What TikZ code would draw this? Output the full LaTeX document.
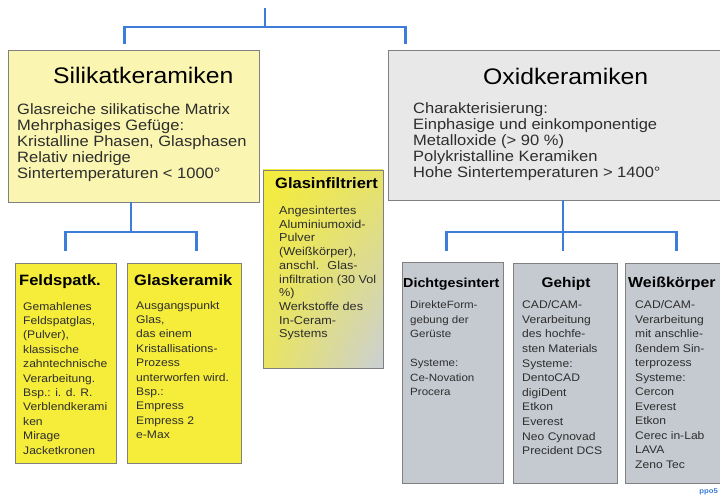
\documentclass[tikz,border=0pt]{standalone}
\usepackage{fontspec}
\setmainfont{Liberation Sans}[FakeStretch=1.1]
\usetikzlibrary{shadows,shadings}
\definecolor{lyel}{RGB}{250,245,176}
\definecolor{lgray}{RGB}{232,232,232}
\definecolor{byel}{RGB}{245,237,58}
\definecolor{bgray}{RGB}{197,202,209}
\definecolor{edge}{RGB}{128,128,128}
\definecolor{conblue}{RGB}{59,125,216}
\definecolor{txt}{RGB}{45,45,45}
\begin{document}
\begin{tikzpicture}[x=1pt,y=-1pt,
  panel/.style={draw=edge, line width=0.9pt, inner sep=0pt,
    drop shadow={shadow xshift=1.2pt, shadow yshift=-1.2pt, opacity=0.35}},
  conn/.style={draw=conblue, line width=2.4pt},
  bigtitle/.style={anchor=base west, inner sep=0pt, font=\fontsize{22.5}{26}\selectfont, text=black},
  bigbody/.style={anchor=north west, inner sep=0pt, align=left, font=\fontsize{15}{16}\selectfont, text=txt},
  smalltitle/.style={anchor=base west, inner sep=0pt, font=\bfseries\fontsize{15}{17}\selectfont, text=black},
  smallbody/.style={anchor=north west, inner sep=0pt, align=left, font=\fontsize{11}{14.4}\selectfont, text=txt}]
\useasboundingbox[fill=white] (0,0) rectangle (720,497);

% boxes
\node[panel, fill=lyel, minimum width=251pt, minimum height=152pt] (sil) at (133.5,126) {};
\node[panel, fill=lgray, minimum width=334pt, minimum height=150pt] (oxi) at (555,125) {};
\node[panel, minimum width=120pt, minimum height=198pt,
  upper left=byel, upper right=byel!70!bgray, lower left=byel!75!bgray, lower right=bgray!90!white] (gin) at (323,269) {};
\node[panel, fill=byel, minimum width=101pt, minimum height=200pt] (feld) at (65.5,363) {};
\node[panel, fill=byel, minimum width=114pt, minimum height=200pt] (glas) at (184,363) {};
\node[panel, fill=bgray, minimum width=101pt, minimum height=221pt] (dicht) at (452.5,372.5) {};
\node[panel, fill=bgray, minimum width=104pt, minimum height=220pt] (geh) at (565,373) {};
\node[panel, fill=bgray, minimum width=97pt, minimum height=220pt] (weiss) at (673.5,373) {};

% connectors
\coordinate (top) at (265,8);
\coordinate (barT) at (265,27);
\coordinate (barS) at (131,232);
\coordinate (barO) at (563,232);
\draw[conn] (top) -- (barT);
\draw[conn, shorten >=6pt] (barT) -| ([xshift=117pt]sil.north west);
\draw[conn, shorten >=6pt] (barT) -| ([xshift=18pt]oxi.north west);
\draw[conn] (barS |- sil.south) -- (barS);
\draw[conn, shorten >=12pt] (barS) -| (feld.north);
\draw[conn, shorten >=12pt] (barS) -| ([xshift=70pt]glas.north west);
\draw[conn] (barO |- oxi.south) -- (barO);
\draw[conn, shorten >=12pt] (barO) -- (barO |- geh.north);
\draw[conn, shorten >=11pt] (barO) -| ([xshift=45pt]dicht.north west);
\draw[conn, shorten >=12pt] (barO) -| ([xshift=52pt]weiss.north west);

% big box texts
\node[bigtitle] (silT) at (53,84) {Silikatkeramiken};
\node[bigbody] (silB) at (17,103.3) {Glasreiche silikatische Matrix\\Mehrphasiges Gefüge:\\Kristalline Phasen, Glasphasen\\Relativ niedrige\\Sintertemperaturen < 1000°};
\node[bigtitle] (oxiT) at (483,85) {Oxidkeramiken};
\node[bigbody] (oxiB) at (413,102.3) {Charakterisierung:\\Einphasige und einkomponentige\\Metalloxide (> 90 \%)\\Polykristalline Keramiken\\Hohe Sintertemperaturen > 1400°};

% Glasinfiltriert
\node[smalltitle] (ginT) at (275,189) {Glasinfiltriert};
\node[smallbody, font=\fontsize{11.5}{13.7}\selectfont] (ginB) at (279,206) {Angesintertes\\Aluminiumoxid-\\Pulver\\(Weißkörper),\\anschl.~ Glas-\\infiltration (30 Vol\\\%)\\Werkstoffe des\\In-Ceram-\\Systems};

% yellow small boxes
\node[smalltitle] (feldT) at (19,285) {Feldspatk.};
\node[smallbody] (feldB) at (23,302) {Gemahlenes\\Feldspatglas,\\(Pulver),\\klassische\\zahntechnische\\Verarbeitung.\\Bsp.: i. d. R.\\Verblendkerami\\ken\\Mirage\\Jacketkronen};
\node[smalltitle] (glasT) at (134,285) {Glaskeramik};
\node[smallbody] (glasB) at (136,301) {Ausgangspunkt\\Glas,\\das einem\\Kristallisations-\\Prozess\\unterworfen wird.\\Bsp.:\\Empress\\Empress 2\\e-Max};

% gray small boxes
\node[smalltitle, font=\bfseries\fontsize{13}{15}\selectfont] (dichtT) at (403,287) {Dichtgesintert};
\node[smallbody, font=\fontsize{10.5}{14.5}\selectfont] (dichtB) at (410,300.8) {DirekteForm-\\gebung der\\Gerüste\\[14.5pt]Systeme:\\Ce-Novation\\Procera};
\node[smalltitle, anchor=base, font=\bfseries\fontsize{14}{16}\selectfont] (gehT) at (566,287) {Gehipt};
\node[smallbody, font=\fontsize{11}{14.6}\selectfont] (gehB) at (522,300.6) {CAD/CAM-\\Verarbeitung\\des hochfe-\\sten Materials\\Systeme:\\DentoCAD\\digiDent\\Etkon\\Everest\\Neo Cynovad\\Precident DCS};
\node[smalltitle, font=\bfseries\fontsize{14.5}{16}\selectfont] (weissT) at (628,287) {Weißkörper};
\node[smallbody, font=\fontsize{11}{14.5}\selectfont] (weissB) at (635,300.6) {CAD/CAM-\\Verarbeitung\\mit anschlie-\\ßendem Sin-\\terprozess\\Systeme:\\Cercon\\Everest\\Etkon\\Cerec in-Lab\\LAVA\\Zeno Tec};

% mark
\node[anchor=base east, inner sep=0pt, font=\bfseries\fontsize{7}{8}\selectfont, text=conblue] (mark) at (718,493) {ppo5};
\end{tikzpicture}
\end{document}
